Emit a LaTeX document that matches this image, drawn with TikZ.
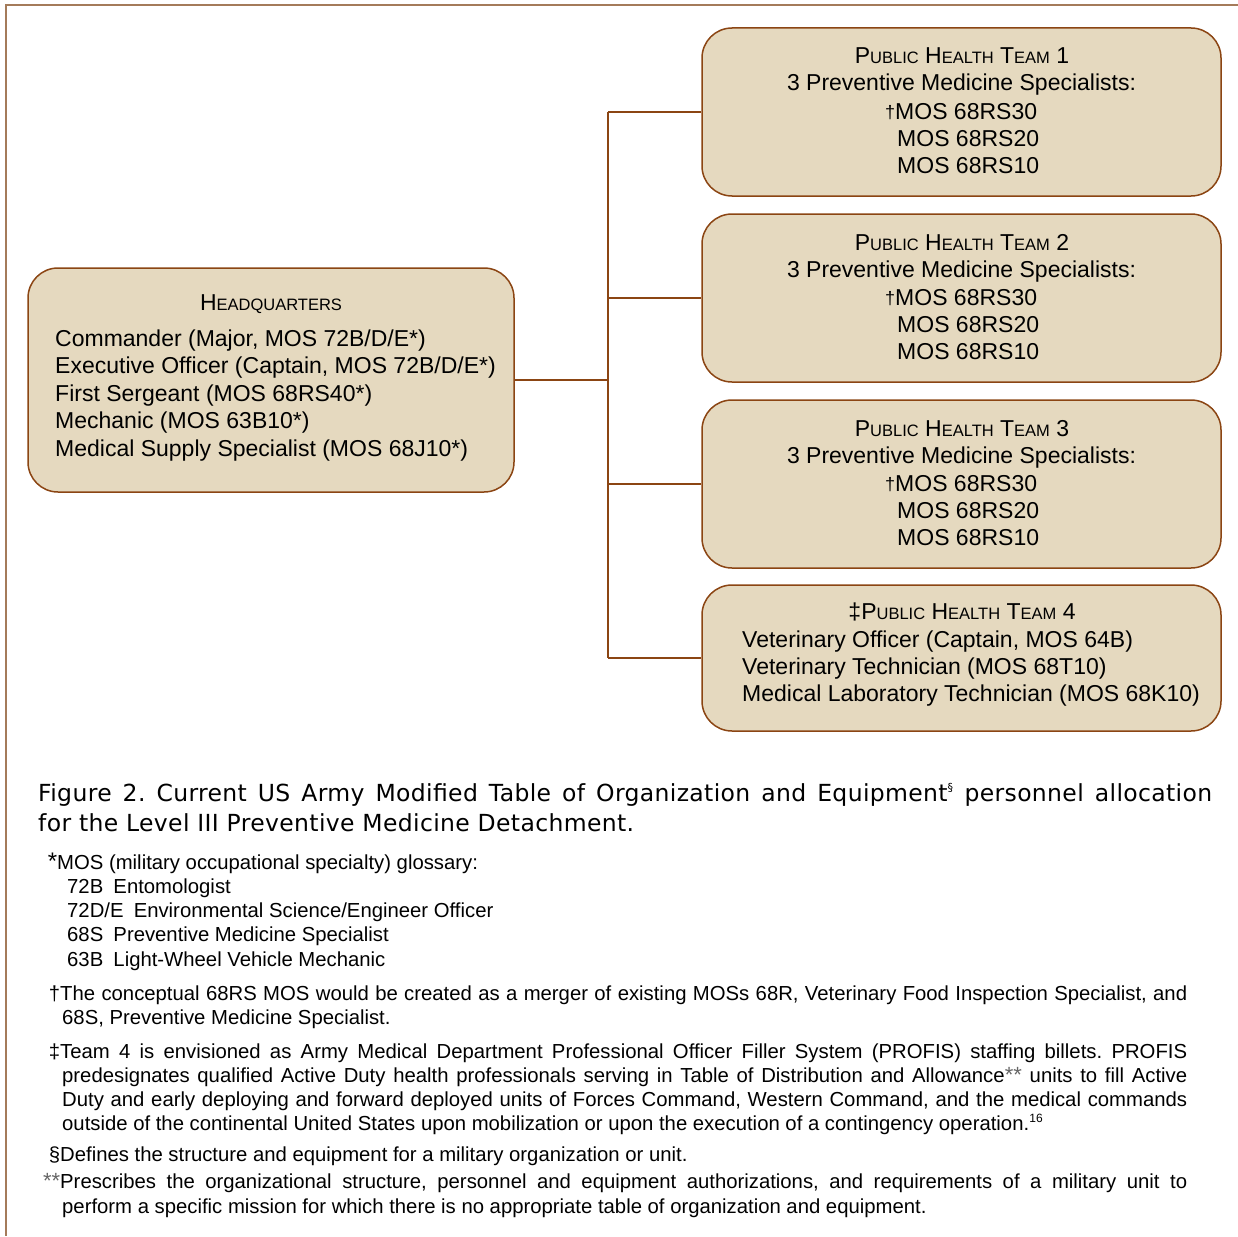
\documentclass[tikz,border=0pt]{standalone}
\usepackage{fontspec}
\setmainfont{Liberation Sans}
\newfontfamily\capfont[LetterSpace=1.5]{DejaVu Sans}
\definecolor{boxfill}{HTML}{E5D9BF}
\definecolor{boxline}{HTML}{8B4513}
\definecolor{framecol}{HTML}{A47B5A}
\definecolor{marksgray}{HTML}{666666}
\newcommand\smc[1]{{\fontsize{16.5}{16.5}\selectfont #1}}
\newcommand\dstar{{\color{marksgray}\fontsize{22}{22}\selectfont**}}
\frenchspacing
\tikzset{
  box/.style={draw=boxline, fill=boxfill, line width=1.5pt, rounded corners=30pt, inner sep=0pt},
  conn/.style={draw=boxline, line width=1.5pt},
  frame/.style={draw=framecol, line width=2pt},
  bt/.style={font=\fontsize{23}{27}\selectfont, inner sep=0pt},
  ft/.style={font=\fontsize{20.3}{24}\selectfont, inner sep=0pt, anchor=base west},
  ct/.style={font=\capfont\fontsize{23.5}{30}\selectfont, inner sep=0pt, anchor=base west},
}
\begin{document}
\begin{tikzpicture}[x=1pt,y=-1pt]
\useasboundingbox (0,0) rectangle (1238,1236);
% frame
\draw[frame] (5,5.5) -- (1238,5.5);
\draw[frame] (6,5) -- (6,1236);
% boxes
\node[box, minimum width=486pt, minimum height=224pt] (hq) at (271,380) {};
\node[box, minimum width=519pt, minimum height=168pt] (t1) at (961.5,112) {};
\node[box, minimum width=519pt, minimum height=168pt] (t2) at (961.5,298) {};
\node[box, minimum width=519pt, minimum height=168pt] (t3) at (961.5,484) {};
\node[box, minimum width=519pt, minimum height=146pt] (t4) at (961.5,658) {};
% connectors
\coordinate (spine) at (608,0);
\draw[conn] (hq.east) -- (hq.east -| spine);
\draw[conn] (t1.west -| spine) -- (t4.west -| spine);
\foreach \t in {t1,t2,t3,t4} \draw[conn] (\t.west -| spine) -- (\t.west);
% HQ text
\node[bt, anchor=base] (hqt) at (271,310) {H\smc{EADQUARTERS}};
\node[bt, anchor=base west] (hq1) at (55,346) {Commander (Major, MOS 72B/D/E*)};
\node[bt, anchor=base west] (hq2) at (55,373) {Executive Officer (Captain, MOS 72B/D/E*)};
\node[bt, anchor=base west] (hq3) at (55,401) {First Sergeant (MOS 68RS40*)};
\node[bt, anchor=base west] (hq4) at (55,428) {Mechanic (MOS 63B10*)};
\node[bt, anchor=base west] (hq5) at (55,456) {Medical Supply Specialist (MOS 68J10*)};
% teams 1-3
\foreach \n/\dy in {1/0,2/186,3/372}{
  \node[bt, anchor=base] (t\n a) at (962,64+\dy) {P\smc{UBLIC} H\smc{EALTH} T\smc{EAM} \n};
  \node[bt, anchor=base] (t\n b) at (961.5,91+\dy) {3 Preventive Medicine Specialists:};
  \node[bt, anchor=base west] (t\n c) at (895,119+\dy) {\llap{\fontsize{18}{18}\selectfont\raisebox{1pt}{†}}MOS 68RS30};
  \node[bt, anchor=base west] (t\n d) at (897,146+\dy) {MOS 68RS20};
  \node[bt, anchor=base west] (t\n e) at (897,173+\dy) {MOS 68RS10};
}
% team 4
\node[bt, anchor=base] (t4a) at (962,619) {‡P\smc{UBLIC} H\smc{EALTH} T\smc{EAM} 4};
\node[bt, anchor=base west] (t4b) at (742,647) {Veterinary Officer (Captain, MOS 64B)};
\node[bt, anchor=base west] (t4c) at (742,674) {Veterinary Technician (MOS 68T10)};
\node[bt, anchor=base west] (t4d) at (742,701) {Medical Laboratory Technician (MOS 68K10)};
% caption
\node[ct] (cap1) at (38,801) {\makebox[1174pt][s]{Figure 2. Current US Army Modified Table of Organization and Equipment\textsuperscript{\fontsize{11}{11}\selectfont§} personnel allocation}};
\node[ct] (cap2) at (38,831) {for the Level III Preventive Medicine Detachment.};
% footnotes
\node[ft] (g0) at (57,869) {\llap{\fontsize{24}{24}\selectfont *}MOS (military occupational specialty) glossary:};
\node[ft] (g1) at (67,893) {72B\hspace{0.5em}Entomologist};
\node[ft] (g2) at (67,917) {72D/E\hspace{0.5em}Environmental Science/Engineer Officer};
\node[ft] (g3) at (67,941) {68S\hspace{0.5em}Preventive Medicine Specialist};
\node[ft] (g4) at (67,966) {63B\hspace{0.5em}Light-Wheel Vehicle Mechanic};
\node[ft] (d1) at (60,1000) {\llap{†}\makebox[1127pt][s]{The conceptual 68RS MOS would be created as a merger of existing MOSs 68R, Veterinary Food Inspection Specialist, and}};
\node[ft] (d2) at (62,1024) {68S, Preventive Medicine Specialist.};
\node[ft] (dd1) at (60,1058) {\llap{‡}\makebox[1127pt][s]{Team 4 is envisioned as Army Medical Department Professional Officer Filler System (PROFIS) staffing billets. PROFIS}};
\node[ft] (dd2) at (62,1082) {\makebox[1125pt][s]{predesignates qualified Active Duty health professionals serving in Table of Distribution and Allowance\dstar{} units to fill Active}};
\node[ft] (dd3) at (62,1106) {\makebox[1125pt][s]{Duty and early deploying and forward deployed units of Forces Command, Western Command, and the medical commands}};
\node[ft] (dd4) at (62,1130) {outside of the continental United States upon mobilization or upon the execution of a contingency operation.\textsuperscript{\fontsize{12}{12}\selectfont 16}};
\node[ft] (s1) at (60,1161) {\llap{§}Defines the structure and equipment for a military organization or unit.};
\node[ft] (a1) at (60,1188) {\llap{\dstar}\makebox[1127pt][s]{Prescribes the organizational structure, personnel and equipment authorizations, and requirements of a military unit to}};
\node[ft] (a2) at (62,1213) {perform a specific mission for which there is no appropriate table of organization and equipment.};
\end{tikzpicture}
\end{document}
